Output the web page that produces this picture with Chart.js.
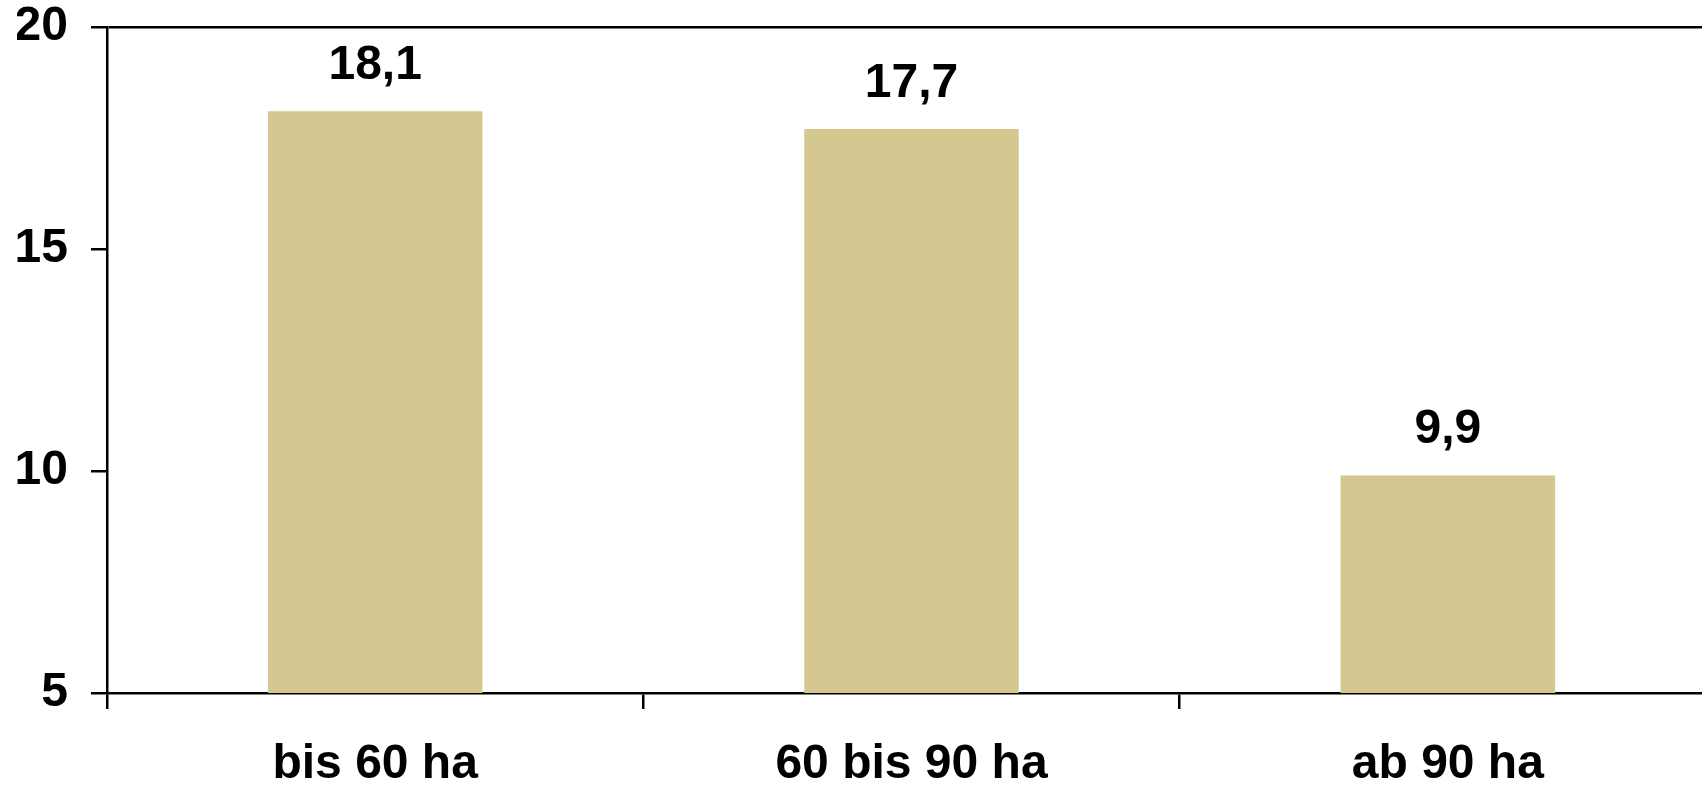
<!DOCTYPE html>
<html>
<head>
<meta charset="utf-8">
<script src="https://cdn.jsdelivr.net/npm/chart.js@4"></script>
<style>
  html, body { margin: 0; padding: 0; background: #fff; overflow: hidden; }
  #wrap { position: absolute; left: 0; top: 0; width: 1716px; height: 789px; }
</style>
</head>
<body>
<div id="wrap"><canvas id="bar-chart"></canvas></div>
<script>
const categories = ['bis 60 ha', '60 bis 90 ha', 'ab 90 ha'];
const values = [18.1, 17.7, 9.9];
const yTicks = [5, 10, 15, 20];

const FONT = "'Liberation Sans', Arial, sans-serif";
const FONT_SIZE = 48;

// Werte über die Balken schreiben (mit Komma)
const valueLabels = {
  id: 'valueLabels',
  afterDatasetsDraw(chart) {
    const ctx = chart.ctx;
    const meta = chart.getDatasetMeta(0);
    ctx.save();
    ctx.font = 'bold ' + FONT_SIZE + 'px ' + FONT;
    ctx.fillStyle = '#000';
    ctx.textAlign = 'center';
    ctx.textBaseline = 'alphabetic';
    meta.data.forEach((bar, i) => {
      ctx.fillText(values[i].toFixed(1).replace('.', ','), bar.x, bar.y - 32);
    });
    ctx.restore();
  }
};

new Chart(document.getElementById('bar-chart'), {
  type: 'bar',
  data: {
    labels: categories,
    datasets: [{
      data: values,
      backgroundColor: '#d4c890',
      borderWidth: 0,
      categoryPercentage: 1,
      barPercentage: 0.4
    }]
  },
  options: {
    responsive: true,
    maintainAspectRatio: false,
    animation: false,
    layout: { padding: { left: 17, top: 27, right: 0, bottom: 0 } },
    plugins: {
      legend: { display: false },
      tooltip: { enabled: false }
    },
    scales: {
      x: {
        afterFit(axis) {
          axis.height = 96;
          axis.paddingLeft = 0;
          axis.paddingRight = 0;
        },
        border: { color: '#000', width: 2.5 },
        grid: {
          offset: true,
          drawOnChartArea: false,
          color: '#000',
          lineWidth: 2.5,
          tickLength: 16
        },
        ticks: {
          color: '#000',
          padding: 32,
          font: { family: FONT, size: FONT_SIZE, weight: 'bold', lineHeight: 1 }
        }
      },
      y: {
        min: 5,
        max: 20,
        afterBuildTicks(axis) {
          axis.ticks = yTicks.map(v => ({ value: v }));
        },
        afterFit(axis) {
          axis.width = 90;
          axis.paddingTop = 0;
          axis.paddingBottom = 0;
        },
        border: { color: '#000', width: 2.5 },
        grid: {
          color: ctx => (ctx.tick && ctx.tick.value === 20) ? '#000' : 'rgba(0,0,0,0)',
          tickColor: '#000',
          lineWidth: 2.5,
          tickLength: 16
        },
        ticks: {
          color: '#000',
          padding: 23,
          font: { family: FONT, size: FONT_SIZE, weight: 'bold', lineHeight: 1 }
        }
      }
    }
  },
  plugins: [valueLabels]
});
</script>
</body>
</html>
